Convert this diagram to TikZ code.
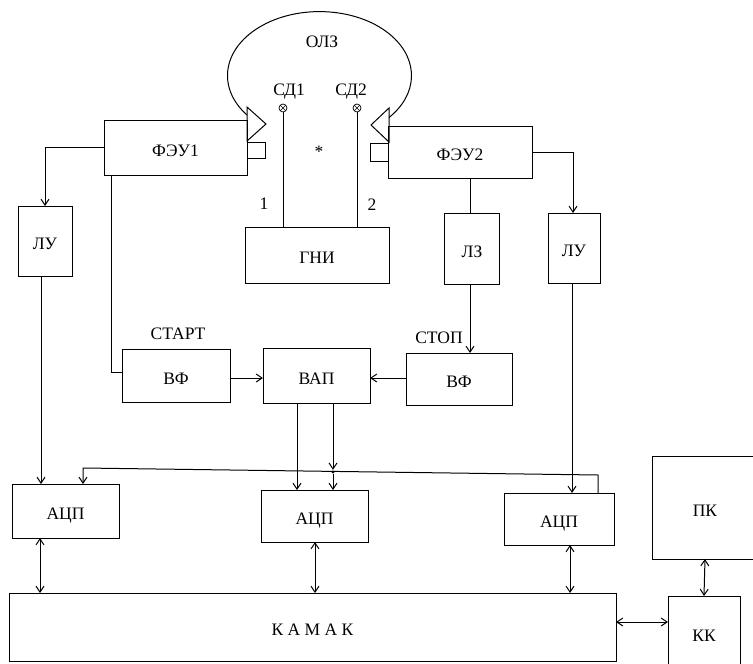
\documentclass[tikz,border=0pt]{standalone}
\usepackage{fontspec}
\setmainfont{Liberation Serif}
\usetikzlibrary{arrows.meta}

\begin{document}
\begin{tikzpicture} [
        x=1pt,y=-1pt,
        line width=1pt,
        >={Straight Barb[length=6pt,width=8pt]},
        font=\fontsize{17.5}{20}\selectfont,
        blk/.style n args={2}{
        draw,rectangle,
        minimum width=#1pt,
        minimum height=#2pt,
        inner sep=0pt,outer sep=0pt,
        text height=17pt,text depth=0pt
        },
        lbl/.style={inner sep=0pt,outer sep=0pt},
        det/.style={draw,circle,minimum size=8pt,inner sep=0pt,outer sep=0pt,line width=0.7pt}
    ]

    \useasboundingbox (0,0) rectangle (753,664);
    \clip (0,0) rectangle (753,664);

    % блоки
    \node[blk = {143}{55}] (pmt1) at (175.5,147.5) {ФЭУ1};
    \node[blk = {144}{52}] (pmt2) at (460,152) {ФЭУ2};
    \node[blk = {54}{70}] (lu1) at (45,241) {ЛУ};
    \node[blk = {144}{56}] (gni) at (317,255) {ГНИ};
    \node[blk = {55}{71}] (lz) at (472,249) {ЛЗ};
    \node[blk = {52}{70}] (lu2) at (574,248) {ЛУ};
    \node[blk = {108}{53}] (vf1) at (176,375.5) {ВФ};
    \node[blk = {107}{55}] (vap) at (316.5,375.5) {ВАП};
    \node[blk = {106}{52}] (vf2) at (459,379) {ВФ};
    \node[blk = {107}{54}] (adc1) at (65.5,511) {АЦП};
    \node[blk = {107}{52}] (adc2) at (314.5,516) {АЦП};
    \node[blk = {110}{52}] (adc3) at (559,519) {АЦП};
    \node[blk = {106}{103}] (pc) at (705,507.5) {ПК};
    \node[blk = {72}{74}] (kk) at (704,633) {КК};
    \node[blk = {607}{68}] (kamak) at (312.5,627) {К А М А К};

    % подписи
    \node[lbl] (olz) at (322,42) {ОЛЗ};
    \node[lbl] (sd1) at (289,92) {СД1};
    \node[lbl] (sd2) at (351,92) {СД2};
    \node[lbl] (n1) at (264,204) {1};
    \node[lbl] (n2) at (372,205) {2};
    \node[lbl] (star) at (319,152) {*};
    \node[lbl] (start) at (178,334) {СТАРТ};
    \node[lbl] (stop) at (439,338) {СТОП};

    % световоды и детекторы
    \draw (247,107) -- (266,124) -- (247,141) -- cycle;
    \draw (389,108) -- (371,125) -- (389,142) -- cycle;
    \draw (247,142) rectangle (265,158);
    \draw (370,143) rectangle (388,161);
    \draw (247,115) arc[start angle=142,end angle=401,x radius=92,y radius=64];

    \node[det] (d1) at (283,108) {};
    \node[det] (d2) at (357,108) {};
    \draw[line width=0.6pt] (d1.north east) -- (d1.south west) (d1.north west) -- (d1.south east);
    \draw[line width=0.6pt] (d2.north east) -- (d2.south west) (d2.north west) -- (d2.south east);
    \draw (d1.south) -- (d1.south |- gni.north);
    \draw (d2.south) -- (d2.south |- gni.north);

    % связи
    \coordinate (a1) at (45,147);
    \coordinate (a2) at (111,372);
    \coordinate (a3) at (573,152);
    \coordinate (a4) at (0,378);
    \draw[->] (pmt1.west |- a1) -- (a1) -- (a1 |- lu1.north);
    \draw ([xshift=-64.5pt]pmt1.south) -- (a2) -- (vf1.west |- a2);
    \draw[->] (pmt2.east |- a3) -- (a3) -- (a3 |- lu2.north);
    \draw ([xshift=10pt]pmt2.south) -- ([xshift=-2pt]lz.north);
    \draw[->] ([xshift=-2pt]lz.south) -- ([xshift=11pt]vf2.north);
    \draw[->] (vf1.east |- a4) -- (vap.west |- a4);
    \draw[->] (vf2.west |- a4) -- (vap.east |- a4);

    \draw[->] ([xshift=-4pt]lu1.south) -- ([xshift=-24.5pt]adc1.north);
    \draw[->] ([xshift=-2pt]lu2.south) -- ([xshift=13pt]adc3.north);

    \draw[->] ([xshift=-19.5pt]vap.south) -- ([xshift=-17.5pt]adc2.north);
    \coordinate[fill,circle,inner sep=1.2pt] (j1) at (333,472);
    \draw[->] ([xshift=16.5pt]vap.south) -- (j1);
    \draw[->] (j1) -- ([xshift=18.5pt]adc2.north);
    \coordinate (b1) at (598,475);
    \coordinate (b2) at (83,468);
    \draw[->] (b1 |- adc3.north) -- (b1) -- (b2) -- (b2 |- adc1.north);

    \draw[<->] ([xshift=-25.5pt]adc1.south) -- ([xshift=-272.5pt]kamak.north);
    \draw[<->] ([xshift=0.5pt]adc2.south) -- ([xshift=2.5pt]kamak.north);
    \draw[<->] ([xshift=11pt]adc3.south) -- ([xshift=257.5pt]kamak.north);
    \draw[<->] (pc.south) -- (kk.north);
    \draw[<->] ([yshift=5pt]kamak.east) -- ([yshift=5pt]kk.west |- kamak.east);

\end{tikzpicture}
\end{document}
